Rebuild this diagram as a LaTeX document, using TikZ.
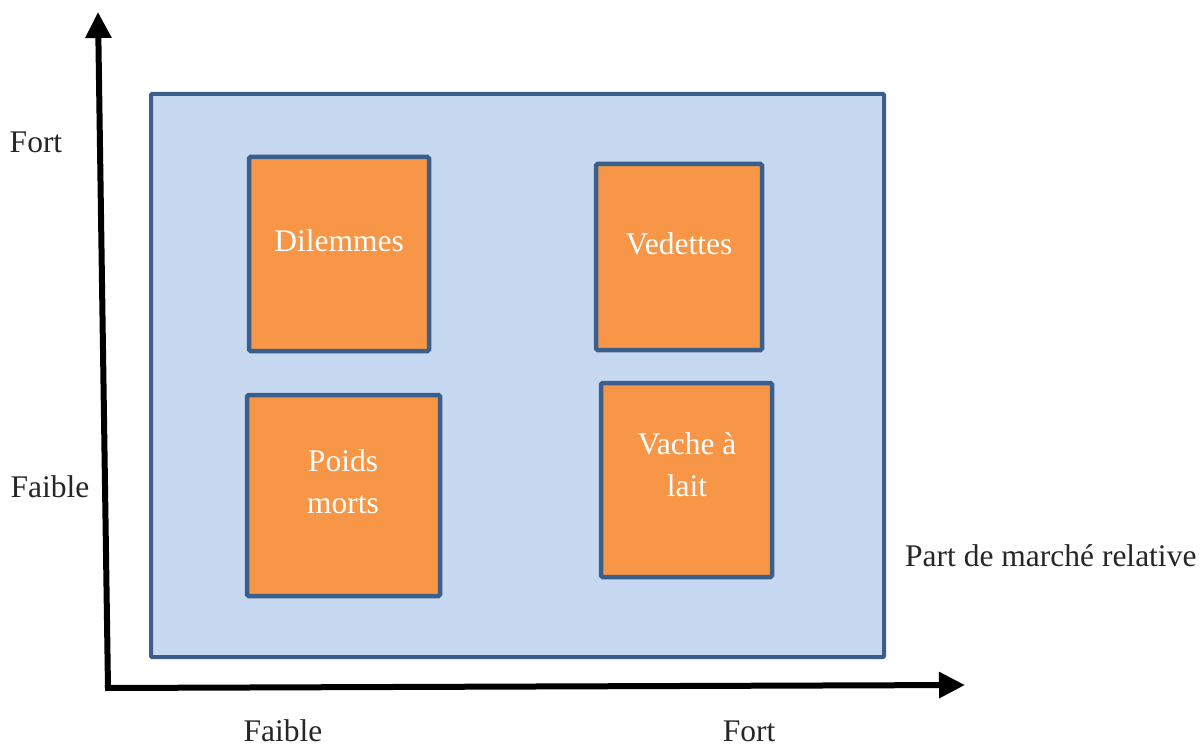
\documentclass[tikz,border=0pt]{standalone}
\usepackage{fontspec}
\setmainfont{Liberation Serif}
\usetikzlibrary{arrows.meta}
\definecolor{panelfill}{HTML}{C6D9F0}
\definecolor{edgeblue}{HTML}{3B5F8D}
\definecolor{cellfill}{HTML}{F79646}
\tikzset{
  panel/.style={draw=edgeblue, line width=4pt, fill=panelfill, rounded corners=1pt},
  cell/.style={draw=edgeblue, line width=4.5pt, fill=cellfill, rounded corners=1.5pt},
  celltext/.style={text=white, align=center, font=\fontsize{31.5}{42}\selectfont},
  axislabel/.style={font=\fontsize{31.5}{38}\selectfont, text=black!85, inner sep=0pt},
  axis/.style={line width=6pt, -{Triangle[width=25pt,length=26pt]}}
}
\begin{document}
\begin{tikzpicture}[x=1pt, y=-1pt]
  \useasboundingbox (0,0) rectangle (1203,749);

  % matrix panel and its four quadrants
  \draw[panel] (151,94) rectangle (884,657);
  \draw[cell] (249,157) rectangle (429,351);
  \draw[cell] (596,164) rectangle (762,350);
  \draw[cell] (247,395) rectangle (440,596);
  \draw[cell] (601,383) rectangle (772,577);

  \node[celltext] (dil) at (339,241) {Dilemmes};
  \node[celltext] (ved) at (679,244) {Vedettes};
  \node[celltext] (poi) at (343,482) {Poids\\morts};
  \node[celltext] (vac) at (687,465) {Vache à\\lait};

  % axes
  \coordinate (origin) at (108,688);
  \coordinate (ytip) at (98,12);
  \coordinate (xtip) at (965,685);
  \draw[axis, line cap=butt] (origin) -- (ytip);
  \draw[axis, line cap=butt] ([xshift=-3pt]origin) -- (xtip);

  % axis labels
  \node[axislabel] (yhigh) at (36,142) {Fort};
  \node[axislabel] (ylow) at (50,487) {Faible};
  \node[axislabel] (xlow) at (283,731) {Faible};
  \node[axislabel] (xhigh) at (749,731) {Fort};
  \node[axislabel, anchor=west] (xname) at (905,556) {Part de marché relative};
\end{tikzpicture}
\end{document}
